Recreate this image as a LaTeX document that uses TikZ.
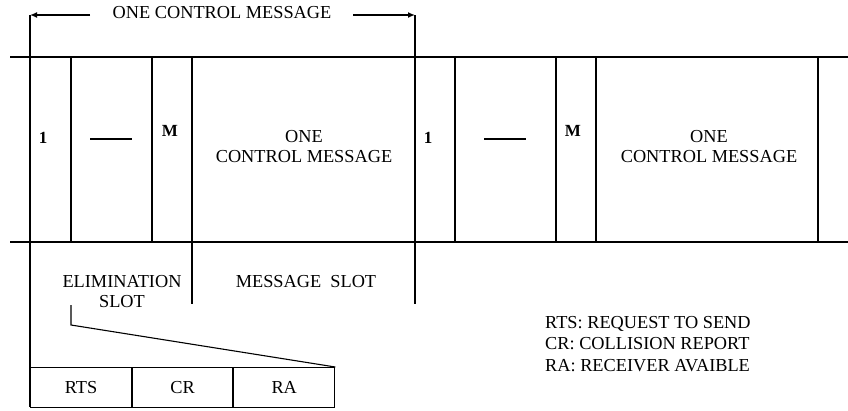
\documentclass[tikz,border=0pt]{standalone}
\usepackage{fontspec}
\setmainfont{Liberation Serif}
\usetikzlibrary{arrows.meta}
\begin{document}
\begin{tikzpicture}[x=1pt,y=-1pt,
  txt/.style={inner sep=0pt,font=\fontsize{18.3}{20}\selectfont,align=center},
  btxt/.style={txt,font=\fontsize{17}{20}\selectfont\bfseries},
  frame/.style={line width=1.8pt},
  wall/.style={line width=1.4pt},
  thin/.style={line width=1.1pt},
  tip/.style={-{Latex[length=7pt,width=6pt]},line width=1.4pt}]
\useasboundingbox (0,0) rectangle (848,410);
% span marker above the first control message
\coordinate (lt) at (30,15);
\coordinate (rt) at (415,15);
\node[txt] (title) at (222,13) {ONE CONTROL MESSAGE};
\draw[tip] (90,15) -- (lt);
\draw[tip] (353,15) -- (rt);
% frame rails
\draw[frame] (10,57) -- (848,57);
\draw[frame] (10,242) -- (848,242);
% cell walls
\draw[wall] (lt) -- (30,407);
\draw[wall] (rt) -- (415,304);
\draw[wall] (192,57) -- (192,304);
\foreach \x in {71,152,455,556,596,818}
  \draw[wall] (\x,57) -- (\x,242);
% cell contents
\node[btxt] (one1) at (43,138) {1};
\draw[thin] (90,139) -- (132,139);
\node[btxt] (m1) at (170,131) {M};
\node[txt] (msg1) at (304,147) {ONE\\CONTROL MESSAGE};
\node[btxt] (one2) at (428,138) {1};
\draw[thin] (484,139) -- (526,139);
\node[btxt] (m2) at (573,131) {M};
\node[txt] (msg2) at (709,147) {ONE\\CONTROL MESSAGE};
% slot labels
\node[txt] (elim) at (122,292) {ELIMINATION\\SLOT};
\node[txt] (mslot) at (306,282) {MESSAGE\ \ SLOT};
% expansion of the elimination slot
\node[draw,thin,minimum width=101pt,minimum height=40pt,txt,anchor=north west] (rts) at (30,367) {RTS};
\node[draw,thin,minimum width=100pt,minimum height=40pt,txt,anchor=north west] (cr) at (rts.north east) {CR};
\node[draw,thin,minimum width=101pt,minimum height=40pt,txt,anchor=north west] (ra) at (cr.north east) {RA};
\coordinate (bk) at (71,305);
\draw[thin] (bk) -- (71,325) -- (ra.north east);
% legend
\node[inner sep=0pt,align=left,anchor=north west,font=\fontsize{18.3}{21.5}\selectfont] (legend) at (545,316) {RTS: REQUEST TO SEND\\CR: COLLISION REPORT\\RA: RECEIVER AVAIBLE};
\end{tikzpicture}
\end{document}
